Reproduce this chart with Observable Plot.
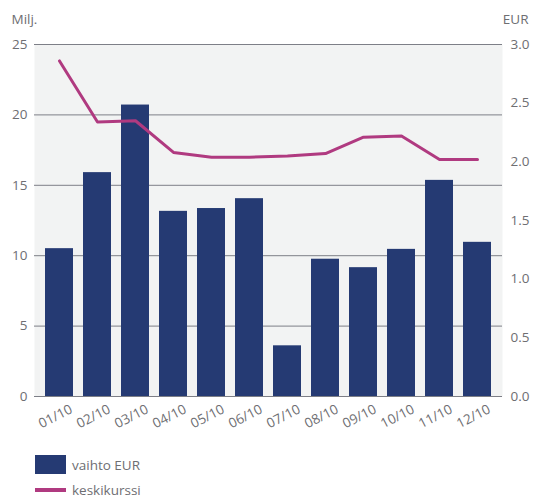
<!DOCTYPE html>
<html>
<head>
<meta charset="utf-8">
<script src="https://cdn.jsdelivr.net/npm/d3@7"></script>
<script src="https://cdn.jsdelivr.net/npm/@observablehq/plot@0.6"></script>
<style>
  html, body { margin: 0; padding: 0; background: #fff; }
  body { width: 537px; height: 497px; position: relative; overflow: hidden; font-family: "Open Sans", sans-serif; }
  #chart { position: absolute; left: 0; top: 0; }
  .legend { position: absolute; left: 35px; font-size: 13.5px; color: #6e6e72; }
  .legend .item { display: flex; align-items: center; height: 19px; margin-bottom: 6px; }
  .legend .sw { width: 31px; margin-right: 6px; }
</style>
</head>
<body>
<div id="chart"></div>
<div class="legend" style="top:455px">
  <div class="item"><span class="sw" style="height:19px;background:#253a73"></span><span>vaihto EUR</span></div>
  <div class="item"><span class="sw" style="height:4px;background:#b03a80"></span><span>keskikurssi</span></div>
</div>
<script>
const months = ["01/10","02/10","03/10","04/10","05/10","06/10","07/10","08/10","09/10","10/10","11/10","12/10"];
const volume = [10.5, 15.9, 20.7, 13.15, 13.35, 14.05, 3.6, 9.75, 9.15, 10.45, 15.35, 10.95];
const rate = [2.86, 2.34, 2.35, 2.08, 2.04, 2.04, 2.05, 2.07, 2.21, 2.22, 2.02, 2.02];
const leftTicks = [0, 5, 10, 15, 20, 25];
const rightTicks = [0, 0.5, 1.0, 1.5, 2.0, 2.5, 3.0];
const leftMax = 25, rightMax = 3;

const bars = months.map((m, i) => ({month: m, value: volume[i]}));
const line = months.map((m, i) => ({month: m, value: rate[i] * leftMax / rightMax}));

const textColor = "#6e6e72";
const gridColor = "#7d7f87";

const chart = Plot.plot({
  width: 537,
  height: 445,
  marginLeft: 34,
  marginRight: 35,
  marginTop: 44,
  marginBottom: 49,
  style: {fontFamily: "Open Sans, sans-serif", fontSize: "13.5px", color: textColor, background: "transparent"},
  x: {type: "band", domain: months, padding: 0.256, label: null},
  y: {domain: [0, leftMax], label: null},
  marks: [
    Plot.frame({fill: "#f2f3f3", stroke: null}),
    Plot.ruleY(leftTicks, {stroke: gridColor, strokeWidth: 1, strokeOpacity: 1}),
    Plot.barY(bars, {x: "month", y: "value", fill: "#253a73"}),
    Plot.ruleY([0], {stroke: gridColor, strokeWidth: 1}),
    Plot.line(line, {x: "month", y: "value", stroke: "#b03a80", strokeWidth: 3, curve: "linear"}),
    Plot.axisY({anchor: "left", ticks: leftTicks, tickSize: 0, tickPadding: 7, label: null, fill: textColor}),
    Plot.axisY({anchor: "right", ticks: rightTicks.map(t => t * leftMax / rightMax), tickFormat: d => (d * rightMax / leftMax).toFixed(1), tickSize: 0, tickPadding: 8, label: null, fill: textColor}),
    Plot.axisX({tickRotate: -27, tickSize: 0, tickPadding: 6, dx: 12, dy: 6, label: null, fill: textColor}),
    Plot.text(["Milj."], {frameAnchor: "top-left", dx: -23, dy: -30, textAnchor: "start", fill: textColor}),
    Plot.text(["EUR"], {frameAnchor: "top-right", dx: 26, dy: -30, textAnchor: "end", fill: textColor})
  ]
});
document.getElementById("chart").appendChild(chart);
</script>
</body>
</html>
